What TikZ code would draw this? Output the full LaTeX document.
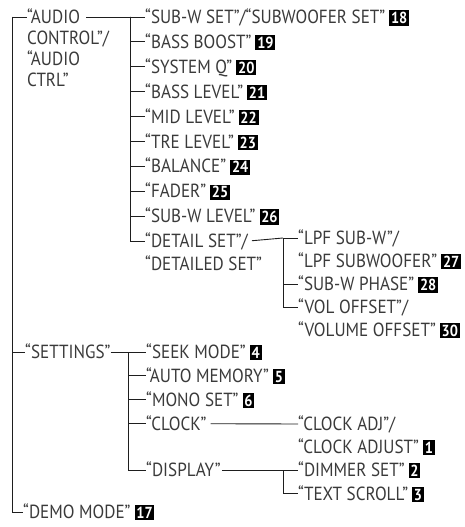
\documentclass[tikz,border=0pt]{standalone}
\usepackage{fontspec}
\setmainfont{PT Sans}
\newfontfamily\menufont[FakeStretch=0.9]{PT Sans}
\usepackage{xcolor}
\usetikzlibrary{positioning}
\definecolor{menutext}{HTML}{3A3A3A}
\definecolor{menuline}{HTML}{1E1E1E}
\newcommand{\numbox}[1]{\hspace{4pt}{\setlength{\fboxsep}{1.8pt}\colorbox{black}{\textcolor{white}{\bfseries\fontsize{16}{16}\selectfont #1}}}}
\tikzset{
  menuitem/.style={anchor=west,inner sep=0pt,text height=13pt,text depth=0pt,
    font={\menufont\fontsize{19}{21}\selectfont},text=menutext},
  menucont/.style={anchor=north west,inner sep=0pt,align=left,
    font={\menufont\fontsize{19}{21}\selectfont},text=menutext},
  tree/.style={draw=menuline,line width=0.9pt}
}

\begin{document}
\begin{tikzpicture}[x=1pt,y=-1pt]
  \useasboundingbox (0,0) rectangle (465,527);
  % top level
  \coordinate (root) at (12,17);
  \node[menuitem] (audio) at (27,17) {“AUDIO};
  \node[menucont,below=7.5pt of audio.south west,anchor=north west] (audiob) {CONTROL”/\\“AUDIO\\CTRL”};
  \node[menuitem] (settings) at (25,352) {“SETTINGS”};
  \node[menuitem] (demo) at (23,512) {“DEMO MODE”\numbox{17}};
  % audio control
  \node[menuitem] (subwset) at (145,17) {“SUB-W SET”/“SUBWOOFER SET”\numbox{18}};
  \node[menuitem,below=11.5pt of subwset.south west,anchor=north west] (boost) {“BASS BOOST”\numbox{19}};
  \node[menuitem,below=11.5pt of boost.south west,anchor=north west] (sysq) {“SYSTEM Q”\numbox{20}};
  \node[menuitem,below=11.5pt of sysq.south west,anchor=north west] (basslvl) {“BASS LEVEL”\numbox{21}};
  \node[menuitem,below=11.5pt of basslvl.south west,anchor=north west] (midlvl) {“MID LEVEL”\numbox{22}};
  \node[menuitem,below=11.5pt of midlvl.south west,anchor=north west] (trelvl) {“TRE LEVEL”\numbox{23}};
  \node[menuitem,below=11.5pt of trelvl.south west,anchor=north west] (balance) {“BALANCE”\numbox{24}};
  \node[menuitem,below=11.5pt of balance.south west,anchor=north west] (fader) {“FADER”\numbox{25}};
  \node[menuitem,below=11.5pt of fader.south west,anchor=north west] (subwlvl) {“SUB-W LEVEL”\numbox{26}};
  \node[menuitem,below=11.5pt of subwlvl.south west,anchor=north west] (detail) {“DETAIL SET”/};
  \node[menucont,below=7.5pt of detail.south west,anchor=north west] (detailb) {“DETAILED SET”};
  % detail set
  \node[menuitem] (lpf) at (298,238) {“LPF SUB-W”/};
  \node[menucont,below=7.5pt of lpf.south west,anchor=north west] (lpfb) {“LPF SUBWOOFER”\numbox{27}};
  \node[menuitem] (phase) at (298,284) {“SUB-W PHASE”\numbox{28}};
  \node[menuitem] (voloff) at (298,307) {“VOL OFFSET”/};
  \node[menucont,below=7.5pt of voloff.south west,anchor=north west] (voloffb) {“VOLUME OFFSET”\numbox{30}};
  % settings
  \node[menuitem] (seek) at (146,352) {“SEEK MODE”\numbox{4}};
  \node[menuitem,below=10.5pt of seek.south west,anchor=north west] (automem) {“AUTO MEMORY”\numbox{5}};
  \node[menuitem,below=10.5pt of automem.south west,anchor=north west] (mono) {“MONO SET”\numbox{6}};
  \node[menuitem,below=10.5pt of mono.south west,anchor=north west] (clock) {“CLOCK”};
  \node[menuitem] (display) at (146,470) {“DISPLAY”};
  \node[menuitem] (clockadj) at (298,424) {“CLOCK ADJ”/};
  \node[menucont,below=7.5pt of clockadj.south west,anchor=north west] (clockadjb) {“CLOCK ADJUST”\numbox{1}};
  \node[menuitem] (dimmer) at (298,470) {“DIMMER SET”\numbox{2}};
  \node[menuitem,below=10.5pt of dimmer.south west,anchor=north west] (scroll) {“TEXT SCROLL”\numbox{3}};
  % connectors
  \foreach \n in {audio,settings,demo}
    \draw[tree] (root) |- (\n.west);
  \coordinate[left=15pt of subwset.west] (abus);
  \draw[tree,shorten <=6pt] (audio.east) -- (abus);
  \foreach \n in {subwset,boost,sysq,basslvl,midlvl,trelvl,balance,fader,subwlvl,detail}
    \draw[tree] (abus) |- (\n.west);
  \coordinate[left=15pt of lpf.west] (dbus);
  \draw[tree,shorten <=4pt] (detail.east) -- (dbus);
  \foreach \n in {lpf,phase,voloff}
    \draw[tree] (dbus) |- (\n.west);
  \coordinate[left=18pt of seek.west] (sbus);
  \draw[tree] (settings.east) -- (sbus);
  \foreach \n in {seek,automem,mono,clock,display}
    \draw[tree] (sbus) |- (\n.west);
  \draw[tree,shorten <=4pt] (clock.east) -- (clockadj.west);
  \coordinate[left=15pt of dimmer.west] (disbus);
  \draw[tree,shorten <=1pt] (display.east) -- (disbus);
  \foreach \n in {dimmer,scroll}
    \draw[tree] (disbus) |- (\n.west);
\end{tikzpicture}
\end{document}
